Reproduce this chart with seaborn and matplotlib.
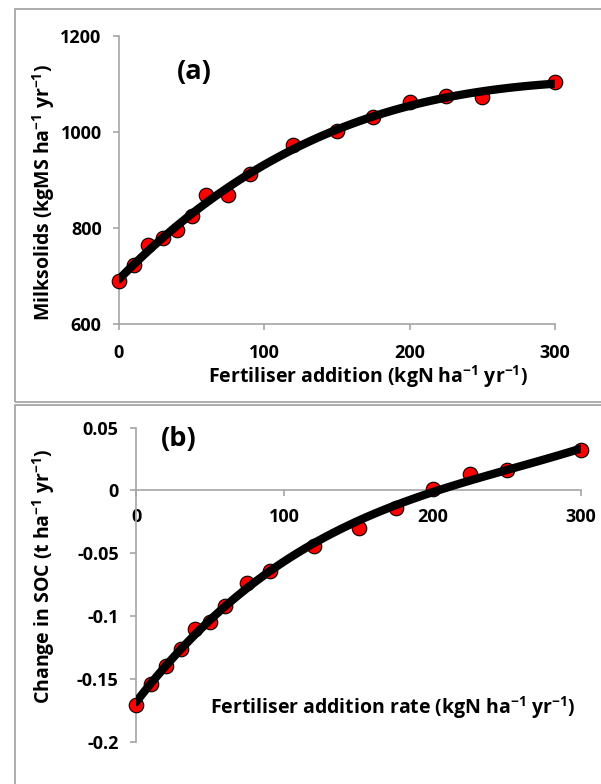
import matplotlib
matplotlib.use("Agg")
import matplotlib.pyplot as plt
import seaborn as sns
import pandas as pd
from matplotlib.patches import Rectangle
from matplotlib import font_manager

# ---- data ----
n_rate = [0, 10, 20, 30, 40, 50, 60, 75, 90, 120, 150, 175, 200, 225, 250, 300]
milksolids = [690, 722, 765, 780, 795, 824, 869, 868, 913, 972, 1002, 1032, 1062, 1075, 1073, 1104]
soc_change = [-0.171, -0.154, -0.140, -0.126, -0.110, -0.105, -0.092, -0.074, -0.064,
              -0.044, -0.030, -0.014, 0.001, 0.013, 0.016, 0.032]

x_ticks = [0, 100, 200, 300]
x_tick_labels = ["0", "100", "200", "300"]
a_yticks = [600, 800, 1000, 1200]
a_ytick_labels = ["600", "800", "1000", "1200"]
b_yticks = [-0.2, -0.15, -0.1, -0.05, 0, 0.05]
b_ytick_labels = ["-0.2", "-0.15", "-0.1", "-0.05", "0", "0.05"]

sns.set_theme(style="white")
# pick a family that really has a bold face
fam = 'DejaVu Sans'
for cand in ['Open Sans', 'Lato', 'Noto Sans', 'Liberation Sans']:
    try:
        p = font_manager.findfont(font_manager.FontProperties(family=cand, weight='bold'),
                                  fallback_to_default=False)
        if 'bold' in p.lower():
            fam = cand
            break
    except Exception:
        pass
plt.rcParams['font.family'] = [fam, 'DejaVu Sans']
plt.rcParams['font.weight'] = 'bold'
plt.rcParams['mathtext.default'] = 'regular'
plt.rcParams['axes.unicode_minus'] = False

W, H = 601, 784
fig = plt.figure(figsize=(W / 100, H / 100), dpi=100)
fig.patch.set_facecolor('white')


def fr(x0, y0, x1, y1):
    return [x0 / W, 1 - y1 / H, (x1 - x0) / W, (y1 - y0) / H]


# panel frames
fig.add_artist(Rectangle((14.7 / W, 1 - 402 / H), (700 - 14.7) / W, (402 - 9) / H,
                         transform=fig.transFigure, fill=False, ec='#a0a0a0', lw=1.2))
fig.add_artist(Rectangle((14.7 / W, 1 - 900 / H), (700 - 14.7) / W, (900 - 404.7) / H,
                         transform=fig.transFigure, fill=False, ec='#a0a0a0', lw=1.2))

ax_a = fig.add_axes(fr(119, 36, 555, 324))
ax_b = fig.add_axes(fr(136, 427.7, 581, 741.7))

df_a = pd.DataFrame({'N': n_rate, 'MS': milksolids})
df_b = pd.DataFrame({'N': n_rate, 'SOC': soc_change})

mk = dict(s=110, color='#ff0000', edgecolor='black', linewidth=0.8, zorder=3, clip_on=False)
ln = dict(color='black', lw=6, zorder=4, solid_capstyle='round')

sns.scatterplot(data=df_a, x='N', y='MS', ax=ax_a, **mk)
sns.regplot(data=df_a, x='N', y='MS', order=3, ci=None, scatter=False, ax=ax_a, line_kws=ln)

sns.scatterplot(data=df_b, x='N', y='SOC', ax=ax_b, **mk)
sns.regplot(data=df_b, x='N', y='SOC', order=3, ci=None, scatter=False, ax=ax_b, line_kws=ln)

spine_c = '#a6a6a6'
for ax in (ax_a, ax_b):
    ax.set_facecolor('none')
    for s in ('top', 'right'):
        ax.spines[s].set_visible(False)
    for s in ('left', 'bottom'):
        ax.spines[s].set_color(spine_c)
        ax.spines[s].set_linewidth(1.2)
    ax.tick_params(axis='both', which='both', bottom=True, left=True, direction='out',
                   length=4.5, width=1.2, color=spine_c, labelcolor='black', labelsize=13)
    ax.tick_params(axis='y', pad=8)
    ax.tick_params(axis='x', pad=10)
    ax.set_xlim(0, 300)
    ax.set_xticks(x_ticks, x_tick_labels)

ax_a.set_ylim(600, 1200)
ax_a.set_yticks(a_yticks, a_ytick_labels)
ax_b.set_ylim(-0.2, 0.05)
ax_b.set_yticks(b_yticks, b_ytick_labels)
ax_b.spines['bottom'].set_position(('data', 0))
ax_b.tick_params(axis='x', pad=8)
for t in ax_a.get_xticklabels() + ax_a.get_yticklabels() + ax_b.get_xticklabels() + ax_b.get_yticklabels():
    t.set_fontweight('bold')

lab = dict(fontsize=14, fontweight='bold', color='black')
ax_a.set_ylabel('Milksolids (kgMS ha$^{-1}$ yr$^{-1}$)', **lab)
ax_a.yaxis.set_label_coords((44 - 119) / 436, (324 - 192) / 288)
ax_a.yaxis.label.set_va('center')
ax_a.set_xlabel('Fertiliser addition (kgN ha$^{-1}$ yr$^{-1}$)', **lab)
ax_a.xaxis.set_label_coords((368 - 119) / 436, (324 - 377) / 288)
ax_a.xaxis.label.set_va('center')

ax_b.set_ylabel('Change in SOC (t ha$^{-1}$ yr$^{-1}$)', **lab)
ax_b.yaxis.set_label_coords((44 - 136) / 445, (741.7 - 576.5) / 314)
ax_b.yaxis.label.set_va('center')
ax_b.set_xlabel('Fertiliser addition rate (kgN ha$^{-1}$ yr$^{-1}$)', **lab)
ax_b.xaxis.set_label_coords((393 - 136) / 445, (741.7 - 708) / 314)
ax_b.xaxis.label.set_va('center')

fig.text(194 / W, 1 - 71.5 / H, '(a)', fontsize=19.5, fontweight='bold', ha='center', va='center', color='black')
fig.text(179 / W, 1 - 439 / H, '(b)', fontsize=19.5, fontweight='bold', ha='center', va='center', color='black')

fig.savefig('out.png', dpi=100, facecolor='white')
